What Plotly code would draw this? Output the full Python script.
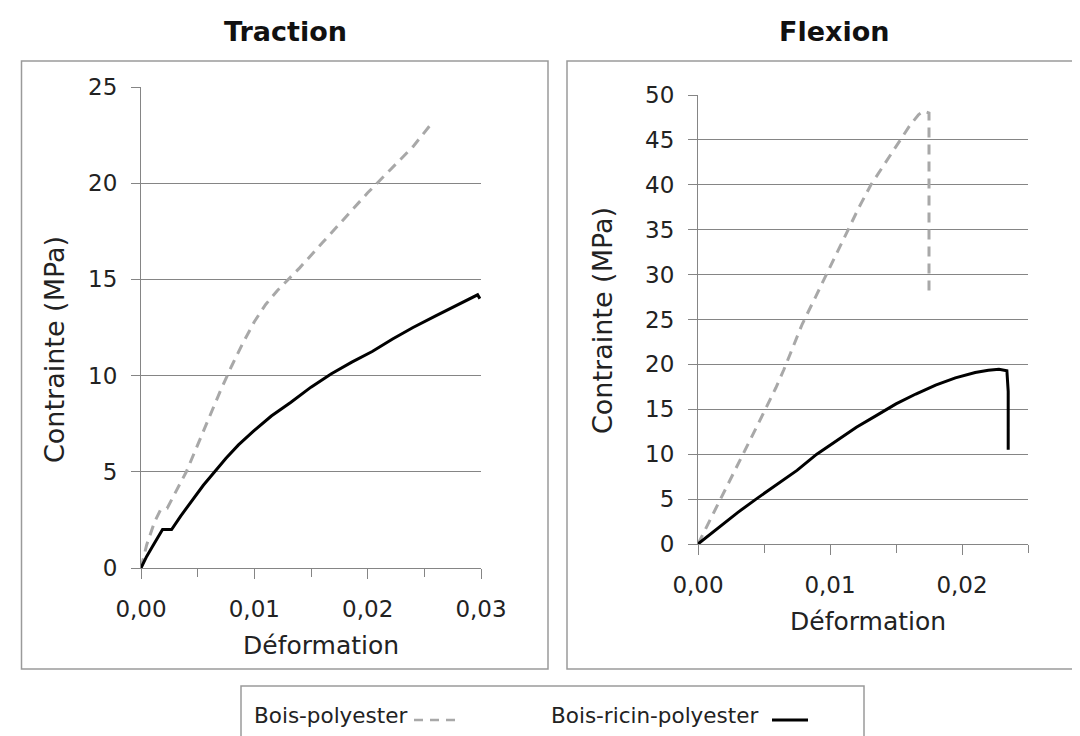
import plotly.graph_objects as go

# ---------------- data ----------------
# Traction
trac_poly_x = [0, 0.0005, 0.0012, 0.0017, 0.0023, 0.003, 0.004, 0.005, 0.006, 0.007,
               0.008, 0.009, 0.010, 0.011, 0.012, 0.014, 0.016, 0.018, 0.020, 0.022,
               0.024, 0.0255]
trac_poly_y = [0, 1.2, 2.4, 3.0, 3.1, 3.9, 5.0, 6.4, 7.8, 9.2,
               10.5, 11.7, 12.8, 13.7, 14.4, 15.6, 16.9, 18.2, 19.5, 20.7,
               21.9, 23.0]
trac_ricin_x = [0, 0.0005, 0.001, 0.0015, 0.0019, 0.0023, 0.0027, 0.0035, 0.0045, 0.0055,
                0.0065, 0.0075, 0.0086, 0.0099, 0.0115, 0.0132, 0.015, 0.0168, 0.0186,
                0.0204, 0.0222, 0.024, 0.026, 0.028, 0.0297, 0.0299]
trac_ricin_y = [0, 0.6, 1.1, 1.6, 2.0, 2.0, 2.0, 2.7, 3.5, 4.3,
                5.0, 5.7, 6.4, 7.1, 7.9, 8.6, 9.4, 10.1, 10.7,
                11.25, 11.9, 12.5, 13.1, 13.7, 14.2, 14.0]

# Flexion
flex_poly_x = [0, 0.001, 0.0017, 0.0027, 0.0037, 0.0045, 0.0052, 0.0059, 0.0065, 0.0072,
               0.0079, 0.0089, 0.0099, 0.0106, 0.0113, 0.0122, 0.0131, 0.0142, 0.0153,
               0.016, 0.0167, 0.0171, 0.0175, 0.0175]
flex_poly_y = [0, 2.9, 5.0, 8.0, 10.8, 13.2, 15.3, 17.4, 19.4, 22.0,
               24.5, 27.5, 30.5, 32.6, 34.8, 37.5, 40.0, 42.5, 45.0,
               46.5, 47.8, 48.2, 48.0, 27.5]
flex_ricin_x = [0, 0.001, 0.002, 0.003, 0.0044, 0.006, 0.0075, 0.009, 0.0105, 0.012,
                0.0135, 0.015, 0.0165, 0.018, 0.0195, 0.021, 0.022, 0.0228, 0.0234,
                0.0235, 0.0235]
flex_ricin_y = [0, 1.2, 2.4, 3.5, 5.0, 6.6, 8.2, 10.0, 11.5, 13.0,
                14.3, 15.6, 16.7, 17.7, 18.5, 19.1, 19.35, 19.45, 19.3,
                17.0, 10.5]

panel_titles = ["Traction", "Flexion"]
series_names = ["Bois-polyester", "Bois-ricin-polyester"]
x_title = "Déformation"
y_title = "Contrainte (MPa)"

# ---------------- styling ----------------
W, H = 1080, 736
FONT = "DejaVu Sans"
GRID = "#858585"
BOX = "#9a9a9a"
TXT = "#222222"
GRAY_LINE = dict(color="#a8a8a8", width=3, dash="10px,7px")
BLACK_LINE = dict(color="#000000", width=3)


def px(x):
    return x / W


def py(y):
    return 1 - y / H


fig = go.Figure()
fig.add_trace(go.Scatter(x=trac_poly_x, y=trac_poly_y, xaxis="x", yaxis="y",
                         mode="lines", line=GRAY_LINE, name=series_names[0],
                         showlegend=False))
fig.add_trace(go.Scatter(x=trac_ricin_x, y=trac_ricin_y, xaxis="x", yaxis="y",
                         mode="lines", line=BLACK_LINE, name=series_names[1],
                         showlegend=False))
fig.add_trace(go.Scatter(x=flex_poly_x, y=flex_poly_y, xaxis="x2", yaxis="y2",
                         mode="lines", line=GRAY_LINE, name=series_names[0],
                         showlegend=False))
fig.add_trace(go.Scatter(x=flex_ricin_x, y=flex_ricin_y, xaxis="x2", yaxis="y2",
                         mode="lines", line=BLACK_LINE, name=series_names[1],
                         showlegend=False))

tickfont = dict(family=FONT, size=23, color=TXT)


def xaxis_cfg(domain, rng, anchor):
    return dict(domain=domain, range=rng, anchor=anchor, tick0=0, dtick=0.01,
                tickformat=".2f", ticks="outside", ticklen=10, tickcolor=GRID,
                tickwidth=1.2, showline=True, linecolor=GRID, linewidth=1.2,
                showgrid=False, zeroline=False, tickfont=tickfont,
                ticklabelstandoff=10, automargin=False,
                minor=dict(tick0=0, dtick=0.005, ticks="outside", ticklen=8,
                           tickcolor=GRID, tickwidth=1.2, showgrid=False))


def yaxis_cfg(domain, rng, anchor):
    return dict(domain=domain, range=rng, anchor=anchor, tick0=0, dtick=5,
                ticks="outside", ticklen=9, tickcolor=GRID, tickwidth=1.2,
                showline=True, linecolor=GRID, linewidth=1.2,
                showgrid=True, gridcolor=GRID, gridwidth=1.2, zeroline=False,
                tickfont=tickfont, ticklabelstandoff=9, automargin=False)


fig.update_layout(
    width=W, height=H,
    margin=dict(l=0, r=0, t=0, b=0, autoexpand=False),
    paper_bgcolor="white", plot_bgcolor="white",
    separators=", ",
    font=dict(family=FONT, color=TXT),
    showlegend=False,
    xaxis=xaxis_cfg([px(133), px(473)], [0, 0.03], "y"),
    yaxis=yaxis_cfg([py(560), py(79)], [0, 25], "x"),
    xaxis2=xaxis_cfg([px(690), px(1020)], [0, 0.025], "y2"),
    yaxis2=yaxis_cfg([py(536), py(87)], [0, 50], "x2"),
)

shapes = [
    dict(type="rect", xref="paper", yref="paper", x0=px(13.5), x1=px(540),
         y0=py(661), y1=py(53), line=dict(color=BOX, width=1.5)),
    dict(type="rect", xref="paper", yref="paper", x0=px(559), x1=px(1075),
         y0=py(661), y1=py(53), line=dict(color=BOX, width=1.5)),
    dict(type="rect", xref="paper", yref="paper", x0=px(233), x1=px(856),
         y0=py(750), y1=py(678), line=dict(color=BOX, width=1.5)),
    # legend samples
    dict(type="line", xref="paper", yref="paper", x0=px(406), x1=px(448),
         y0=py(712), y1=py(712), line=dict(color="#a8a8a8", width=2.5, dash="9px,7px")),
    dict(type="line", xref="paper", yref="paper", x0=px(764), x1=px(800),
         y0=py(712), y1=py(712), line=dict(color="#000000", width=3)),
]

annotations = [
    dict(text=f"<b>{panel_titles[0]}</b>", x=px(277), y=py(23), xref="paper", yref="paper",
         xanchor="center", yanchor="middle", showarrow=False,
         font=dict(family=FONT, size=27, color="#111")),
    dict(text=f"<b>{panel_titles[1]}</b>", x=px(826), y=py(23), xref="paper", yref="paper",
         xanchor="center", yanchor="middle", showarrow=False,
         font=dict(family=FONT, size=27, color="#111")),
    dict(text=x_title, x=px(313), y=py(637), xref="paper", yref="paper",
         xanchor="center", yanchor="middle", showarrow=False,
         font=dict(family=FONT, size=25, color=TXT)),
    dict(text=x_title, x=px(860), y=py(613), xref="paper", yref="paper",
         xanchor="center", yanchor="middle", showarrow=False,
         font=dict(family=FONT, size=25, color=TXT)),
    dict(text=y_title, x=px(46), y=py(342), xref="paper", yref="paper",
         xanchor="center", yanchor="middle", showarrow=False, textangle=-90,
         font=dict(family=FONT, size=27, color=TXT)),
    dict(text=y_title, x=px(594), y=py(313), xref="paper", yref="paper",
         xanchor="center", yanchor="middle", showarrow=False, textangle=-90,
         font=dict(family=FONT, size=27, color=TXT)),
    dict(text=series_names[0], x=px(244), y=py(707), xref="paper", yref="paper",
         xanchor="left", yanchor="middle", showarrow=False,
         font=dict(family=FONT, size=21.5, color=TXT)),
    dict(text=series_names[1], x=px(541), y=py(707), xref="paper", yref="paper",
         xanchor="left", yanchor="middle", showarrow=False,
         font=dict(family=FONT, size=21.5, color=TXT)),
]

fig.update_layout(shapes=shapes, annotations=annotations)

fig.write_html("out.html")
